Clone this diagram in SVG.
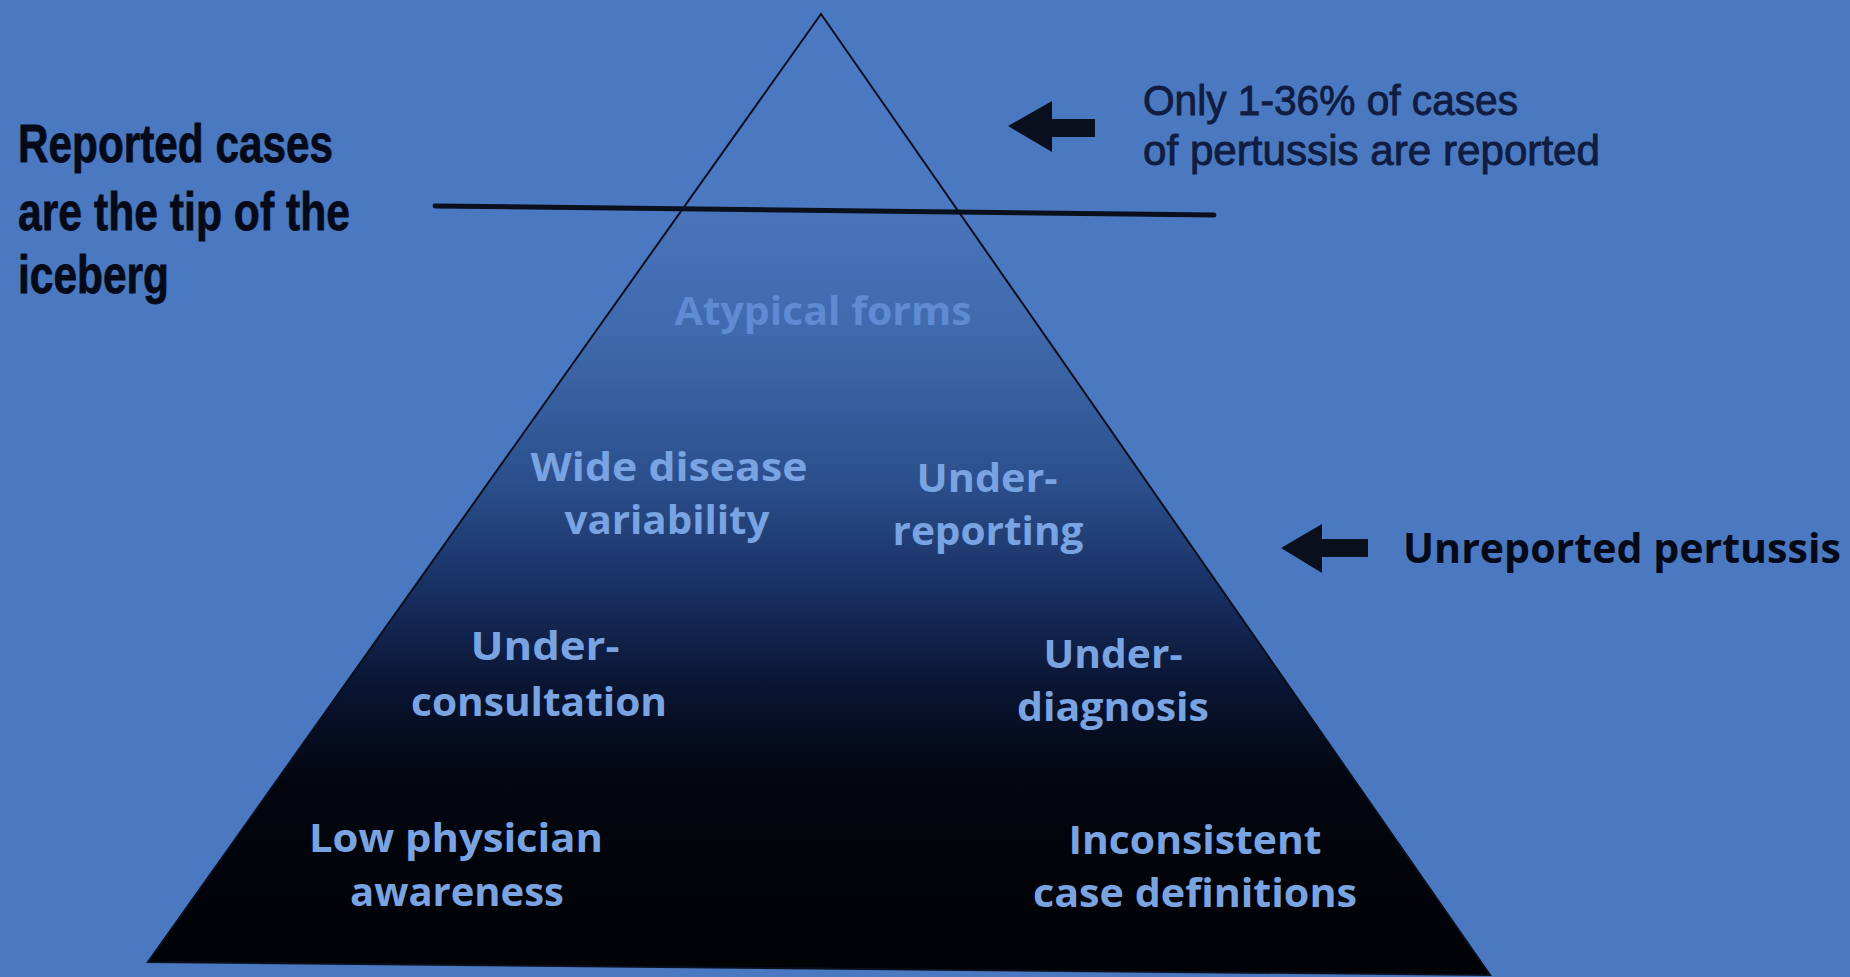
<svg xmlns="http://www.w3.org/2000/svg" width="1850" height="977" viewBox="0 0 1850 977">
<defs>
<linearGradient id="sea" x1="0" y1="207" x2="0" y2="975" gradientUnits="userSpaceOnUse">
<stop offset="0" stop-color="#4a74ba"/>
<stop offset="0.16" stop-color="#406aae"/>
<stop offset="0.36" stop-color="#2b4f8c"/>
<stop offset="0.5" stop-color="#182f62"/>
<stop offset="0.62" stop-color="#0a1533"/>
<stop offset="0.75" stop-color="#03060f"/>
<stop offset="1" stop-color="#010205"/>
</linearGradient>
<style>
.bg{fill:#4b79c1}
.edge{fill:none;stroke:#0a0f1e;stroke-width:2;stroke-linejoin:miter}
.water{stroke:#0a0f1e;stroke-width:5;stroke-linecap:round}
.arrow{fill:#0a0f1e}
.big{font-family:"Liberation Sans",Arial,sans-serif;font-weight:700;font-size:54px;fill:#060a18;stroke:#060a18;stroke-width:0.8}
.note{font-family:"Liberation Sans",Arial,sans-serif;font-size:42px;fill:#101c40;stroke:#101c40;stroke-width:0.9}
.lab{font-family:"Open Sans","DejaVu Sans",sans-serif;font-weight:700;font-size:42px;fill:#060a18}
.in{font-family:"Open Sans","DejaVu Sans",sans-serif;font-weight:700;font-size:40px;fill:#7aa3e2;text-anchor:middle}
.faint{fill:#5e8bd2}
</style>
</defs>
<rect class="bg" x="0" y="0" width="1850" height="977"/>

<g id="iceberg">
<polygon points="684,207 960,214 1490,975 148,962" fill="url(#sea)"/>
<polygon class="edge" points="821,14 1490,975 148,962"/>
</g>

<g id="connectors">
<line class="water" x1="435" y1="206" x2="1214" y2="215"/>
<polygon class="arrow" points="1008,126 1052,101 1052,119 1095,119 1095,137 1052,137 1052,152"/>
<polygon class="arrow" points="1281,548 1322,524 1322,539 1368,539 1368,557 1322,557 1322,573"/>
</g>

<g id="tip-label">
<text class="big" x="18" y="162" textLength="315" lengthAdjust="spacingAndGlyphs">Reported cases</text>
<text class="big" x="18" y="230" textLength="332" lengthAdjust="spacingAndGlyphs">are the tip of the</text>
<text class="big" x="18" y="293" textLength="151" lengthAdjust="spacingAndGlyphs">iceberg</text>
</g>

<g id="reported-note">
<text class="note" x="1143" y="115" textLength="375" lengthAdjust="spacingAndGlyphs">Only 1-36% of cases</text>
<text class="note" x="1143" y="165" textLength="457" lengthAdjust="spacingAndGlyphs">of pertussis are reported</text>
</g>

<g id="unreported-label">
<text class="lab" x="1403" y="563" textLength="438" lengthAdjust="spacingAndGlyphs">Unreported pertussis</text>
</g>

<g id="atypical">
<text class="in faint" x="823" y="325" textLength="297" lengthAdjust="spacingAndGlyphs">Atypical forms</text>
</g>
<g id="wide-disease">
<text class="in" x="669" y="481" textLength="277" lengthAdjust="spacingAndGlyphs">Wide disease</text>
<text class="in" x="667" y="534" textLength="205" lengthAdjust="spacingAndGlyphs">variability</text>
</g>
<g id="under-reporting">
<text class="in" x="987" y="492" textLength="141" lengthAdjust="spacingAndGlyphs">Under-</text>
<text class="in" x="988" y="545" textLength="191" lengthAdjust="spacingAndGlyphs">reporting</text>
</g>
<g id="under-consultation">
<text class="in" x="545" y="660" textLength="149" lengthAdjust="spacingAndGlyphs">Under-</text>
<text class="in" x="539" y="716" textLength="256" lengthAdjust="spacingAndGlyphs">consultation</text>
</g>
<g id="under-diagnosis">
<text class="in" x="1113" y="668" textLength="139" lengthAdjust="spacingAndGlyphs">Under-</text>
<text class="in" x="1113" y="721" textLength="192" lengthAdjust="spacingAndGlyphs">diagnosis</text>
</g>
<g id="low-awareness">
<text class="in" x="456" y="852" textLength="294" lengthAdjust="spacingAndGlyphs">Low physician</text>
<text class="in" x="457" y="906" textLength="214" lengthAdjust="spacingAndGlyphs">awareness</text>
</g>
<g id="inconsistent">
<text class="in" x="1195" y="854" textLength="253" lengthAdjust="spacingAndGlyphs">Inconsistent</text>
<text class="in" x="1195" y="907" textLength="324" lengthAdjust="spacingAndGlyphs">case definitions</text>
</g>
</svg>
